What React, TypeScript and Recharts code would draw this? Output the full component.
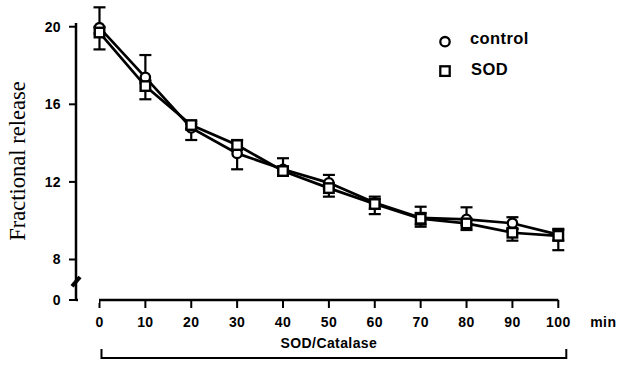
import React from 'react';
import { LineChart, Line, XAxis, YAxis, ErrorBar, Legend } from 'recharts';

// time after start of superfusion (min)
const minutes = [0, 10, 20, 30, 40, 50, 60, 70, 80, 90, 100];

// fractional release, mean values
const controlRelease = [19.95, 17.39, 14.78, 13.47, 12.65, 11.95, 10.92, 10.15, 10.07, 9.87, 9.28];
const sodRelease = [19.7, 16.94, 14.93, 13.9, 12.56, 11.68, 10.86, 10.1, 9.86, 9.38, 9.22];

// SEM as [down, up]
const controlSem = [
  [0.3, 1.05], [0.3, 1.15], [0.62, 0.2], [0.82, 0.2], [0.3, 0.57], [0.3, 0.41],
  [0.3, 0.32], [0.46, 0.57], [0.3, 0.62], [0.3, 0.31], [0.3, 0.3],
];
const sodSem = [
  [0.87, 0.3], [0.68, 0.3], [0.2, 0.2], [0.2, 0.26], [0.25, 0.2], [0.44, 0.2],
  [0.52, 0.25], [0.3, 0.3], [0.34, 0.2], [0.41, 0.2], [0.74, 0.32],
];

// broken axis: bottom of the y scale is labelled "0"
const Y_BREAK = 5.912;
const Y_TOP = 21.3;
const X_MIN = -5.12;
const yTicks = [Y_BREAK, 8, 12, 16, 20];

const data = minutes.map((m, i) => ({
  min: m,
  control: controlRelease[i],
  sod: sodRelease[i],
  controlErr: controlSem[i],
  sodErr: sodSem[i],
}));

const sans = 'Liberation Sans, Arial, Helvetica, sans-serif';
const tickStyle = { fontFamily: sans, fontWeight: 700, fontSize: 14, fill: '#000', letterSpacing: 0.4 };
const axisStroke = { stroke: '#000', strokeWidth: 2.5 };

const SquareDot = (props: any) => {
  const { cx, cy, index } = props;
  if (cx == null || cy == null) return null;
  return (
    <rect key={`sq-${index}`} x={cx - 4.75} y={cy - 4.75} width={9.5} height={9.5}
      fill="#fff" stroke="#000" strokeWidth={2.4} />
  );
};

const LegendBox = () => (
  <svg width={130} height={60}>
    <circle cx={15} cy={16.7} r={4.7} fill="#fff" stroke="#000" strokeWidth={2.3} />
    <text x={40} y={18.5} style={{ ...tickStyle, fontSize: 16.5 }}>control</text>
    <rect x={10.3} y={41.3} width={9.4} height={9.6} fill="#fff" stroke="#000" strokeWidth={2.3} />
    <text x={41} y={49.5} style={{ ...tickStyle, fontSize: 16.5 }}>SOD</text>
  </svg>
);

// axis break and the rotated title
const YDecor = (props: any) => {
  const { x, y, width, height } = props.viewBox;
  const py = (v: number) => y + ((Y_TOP - v) / (Y_TOP - Y_BREAK)) * height;
  const ax = x + width;
  const lx = x + 25;
  const ly = 161;
  return (
    <g>
      <path d={`M${ax - 4},${py(6.62)} L${ax + 4},${py(7.1)}`} stroke="#000" strokeWidth={4} />
      <text x={lx} y={ly} transform={`rotate(-90, ${lx}, ${ly})`} textAnchor="middle"
        style={{ fontFamily: 'Liberation Serif, Times New Roman, serif', fontSize: 22.5, fill: '#000' }}>
        Fractional release
      </text>
    </g>
  );
};

// unit and the treatment bracket
const XDecor = (props: any) => {
  const { x, y, width } = props.viewBox;
  const px = (v: number) => x + ((v - X_MIN) / (100 - X_MIN)) * width;
  const x0 = px(0);
  const x100 = px(100);
  return (
    <g>
      <text x={x100 + 45} y={y + 27} textAnchor="middle" style={tickStyle}>min</text>
      <text x={(x0 + x100) / 2} y={y + 48} textAnchor="middle" style={tickStyle}>SOD/Catalase</text>
      <path d={`M${x0 + 2},${y + 49} V${y + 58} H${x100 + 8} V${y + 49}`}
        fill="none" stroke="#000" strokeWidth={2} />
    </g>
  );
};

// white masks trim the axis lines to the reference extent
const mask: React.CSSProperties = { position: 'absolute', background: '#fff' };

const App: React.FC = () => {
  return (
    <div style={{ position: 'absolute', left: 0, top: 0, width: 622, height: 365, background: '#fff' }}>
      <LineChart width={622} height={365} data={data}
        margin={{ top: 1.5, right: 63.7, bottom: 0, left: 0 }}>
        <XAxis dataKey="min" type="number" domain={[X_MIN, 100]} ticks={minutes}
          axisLine={axisStroke} tickSize={8} tickMargin={9} height={65}
          tickLine={{ stroke: '#000', strokeWidth: 2 }} tick={tickStyle}
          label={XDecor} />
        <YAxis type="number" domain={[Y_BREAK, Y_TOP]} ticks={yTicks} width={76}
          axisLine={axisStroke} tickSize={7} tickMargin={8}
          tickLine={{ stroke: '#000', strokeWidth: 2 }} tick={tickStyle}
          tickFormatter={(v: number) => (v < 7 ? '0' : String(v))}
          label={YDecor} />
        <Legend layout="vertical" align="center" verticalAlign="middle"
          wrapperStyle={{ left: 430, top: 25, width: 130, height: 60 }}
          content={() => <LegendBox />} />
        <Line type="linear" dataKey="control" stroke="#000" strokeWidth={2.7}
          dot={{ r: 4.7, fill: '#fff', stroke: '#000', strokeWidth: 2.3 }}
          isAnimationActive={false}>
          <ErrorBar dataKey="controlErr" direction="y" width={6} stroke="#000" strokeWidth={2.2} />
        </Line>
        <Line type="linear" dataKey="sod" stroke="#000" strokeWidth={2.7}
          dot={SquareDot} isAnimationActive={false}>
          <ErrorBar dataKey="sodErr" direction="y" width={6} stroke="#000" strokeWidth={2.2} />
        </Line>
      </LineChart>
      <div style={{ ...mask, left: 72, top: 0, width: 8, height: 22.5 }} />
      <div style={{ ...mask, left: 77.5, top: 297, width: 21, height: 6 }} />
    </div>
  );
};

export default App;
